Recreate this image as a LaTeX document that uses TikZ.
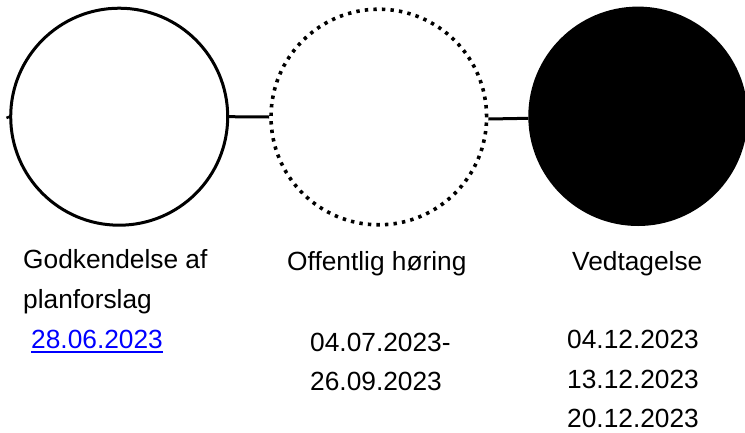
\documentclass[tikz,border=0pt]{standalone}
\usepackage{fontspec}
\setmainfont{Liberation Sans}
\definecolor{linkblue}{RGB}{0,0,255}
\begin{document}
\begin{tikzpicture}[x=1pt,y=-1pt,
  stage/.style={circle, inner sep=0pt, minimum size=217pt, line width=3pt, draw=black},
  link/.style={line width=3pt, draw=black},
  lbl/.style={anchor=base west, inner sep=0pt, font=\fontsize{26.3}{30}\selectfont, text=black},
]
\useasboundingbox (0,0) rectangle (745,432);
% stages
\node[stage, fill=white] (c1) at (119.2,116.7) {};
\node[stage, minimum size=215.6pt, line width=3.6pt, dash pattern=on 3.4pt off 5.17pt] (c2) at (378.8,117) {};
\node[stage, fill=black, minimum size=216.4pt] (c3) at (638,116.3) {};
% connectors
\coordinate (s0) at (6.5,118);
\draw[link, line width=2.5pt] (s0) -- (c1.west);
\draw[link] (c1.east) -- (c2.west);
\draw[link] ([yshift=-2pt]c2.east) -- ([yshift=-2pt]c3.west);
% labels
\node[lbl] (t1a) at (23,268) {Godkendelse af};
\node[lbl] (t1b) at (23,308) {planforslag};
\node[lbl, text=linkblue] (t1c) at (31,348.5) {28.06.2023};
\draw[linkblue, line width=1.4pt] ([yshift=-3.4pt]t1c.base west) -- ([yshift=-3.4pt]t1c.base east);
\node[lbl] (t2a) at (287,270) {Offentlig høring};
\node[lbl] (t2b) at (310,351) {04.07.2023-};
\node[lbl] (t2c) at (310,390) {26.09.2023};
\node[lbl] (t3a) at (572,270) {Vedtagelse};
\node[lbl] (t3b) at (567,348.5) {04.12.2023};
\node[lbl] (t3c) at (567,388.5) {13.12.2023};
\node[lbl] (t3d) at (567,427.5) {20.12.2023};
\end{tikzpicture}
\end{document}
